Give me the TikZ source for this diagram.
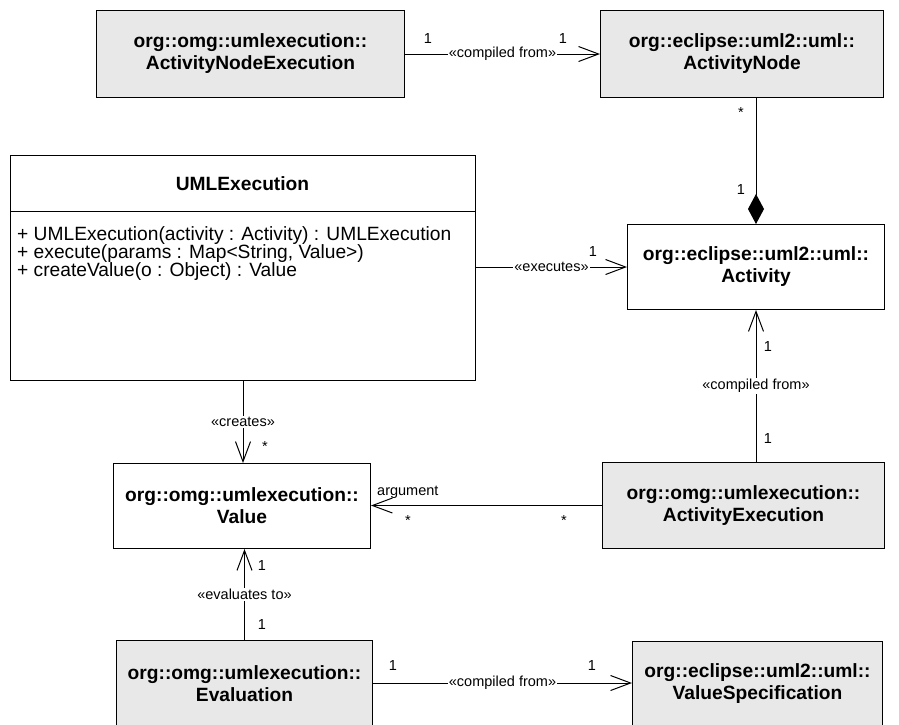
\documentclass[tikz,border=0pt]{standalone}
\usepackage{fontspec}
\setmainfont{Liberation Sans}
\usetikzlibrary{arrows.meta}
\definecolor{classfill}{RGB}{232,232,232}
\begin{document}
\begin{tikzpicture}[x=1pt,y=-1pt,
  classbox/.style={draw=black, line width=1pt, fill=classfill, anchor=north west,
    inner sep=0pt, align=center, font=\fontsize{19.2}{22}\selectfont\bfseries},
  plainbox/.style={classbox, fill=white},
  link/.style={line width=1pt, draw=black},
  navarrow/.style={link, -{Straight Barb[length=20pt,width=15pt]}},
  composite/.style={link, -{Diamond[length=30pt,width=16pt]}},
  stereo/.style={fill=white, inner sep=1pt, font=\fontsize{14.5}{17}\selectfont},
  mult/.style={anchor=base, inner sep=0pt, font=\fontsize{14.5}{17}\selectfont},
  member/.style={anchor=base west, inner sep=0pt, font=\fontsize{19.2}{22}\selectfont},
]
\useasboundingbox (0,0) rectangle (899,724);
\clip (0,0) rectangle (899,724);

% classes
\node[classbox, minimum width=308pt, minimum height=87pt] (ane) at (96,10)
  {org::omg::umlexecution::\\ActivityNodeExecution};
\node[classbox, minimum width=283pt, minimum height=87pt] (an) at (600,10)
  {org::eclipse::uml2::uml::\\ActivityNode};
\node[plainbox, minimum width=257pt, minimum height=85pt] (act) at (627,224)
  {org::eclipse::uml2::uml::\\Activity};
\node[plainbox, minimum width=257pt, minimum height=85pt] (value) at (113,463)
  {org::omg::umlexecution::\\Value};
\node[classbox, minimum width=282pt, minimum height=86pt] (ae) at (602,462)
  {org::omg::umlexecution::\\ActivityExecution};
\node[classbox, minimum width=256pt, minimum height=86pt] (eval) at (116,640)
  {org::omg::umlexecution::\\Evaluation};
\node[classbox, minimum width=250pt, minimum height=84pt] (vspec) at (632,641)
  {org::eclipse::uml2::uml::\\ValueSpecification};

% UMLExecution with its operations compartment
\node[plainbox, minimum width=465pt, minimum height=225pt] (uml) at (10,155) {};
\node[font=\fontsize{19.2}{22}\selectfont\bfseries, inner sep=0pt] (umltitle) at (242.5,184) {UMLExecution};
\draw[line width=1pt] (uml.west |- 0,211) -- (uml.east |- 0,211);
\node[member] (op1) at (17,240) {+ UMLExecution(activity : Activity) : UMLExecution};
\node[member] (op2) at (17,258) {+ execute(params : Map<String, Value>)};
\node[member] (op3) at (17,276) {+ createValue(o : Object) : Value};

% associations
\draw[navarrow] (ane.east) -- node[stereo] (s1) {«compiled from»} (an.west);
\node[mult] (m1) at (428,43) {1};
\node[mult] (m2) at (563,43) {1};

\draw[composite] (an.south -| act.north) -- (act.north);
\node[mult] (m3) at (741,117.5) {*};
\node[mult] (m4) at (741,194) {1};

\draw[navarrow] (uml.east |- act.west) -- node[stereo] (s2) {«executes»} (act.west);
\node[mult] (m5) at (593,256) {1};

\draw[navarrow] (ae.north -| act.south) -- node[stereo] (s3) {«compiled from»} (act.south);
\node[mult] (m6) at (768,351) {1};
\node[mult] (m7) at (768,443) {1};

\draw[navarrow] (uml.south) -- node[stereo] (s4) {«creates»} (uml.south |- value.north);
\node[mult] (m8) at (265,451) {*};

\draw[navarrow] (ae.west) -- (ae.west -| value.east);
\node[anchor=base west, inner sep=0pt, font=\fontsize{14.5}{17}\selectfont] (role) at (377,495) {argument};
\node[mult] (m9) at (408,525.5) {*};
\node[mult] (m10) at (564,525.5) {*};

\draw[navarrow] (eval.north) -- node[stereo] (s5) {«evaluates to»} (eval.north |- value.south);
\node[mult] (m11) at (262,570) {1};
\node[mult] (m12) at (262,629) {1};

\draw[navarrow] (eval.east |- 0,683) -- node[stereo] (s6) {«compiled from»} (vspec.west |- 0,683);
\node[mult] (m13) at (393,670) {1};
\node[mult] (m14) at (592,670) {1};
\end{tikzpicture}
\end{document}
